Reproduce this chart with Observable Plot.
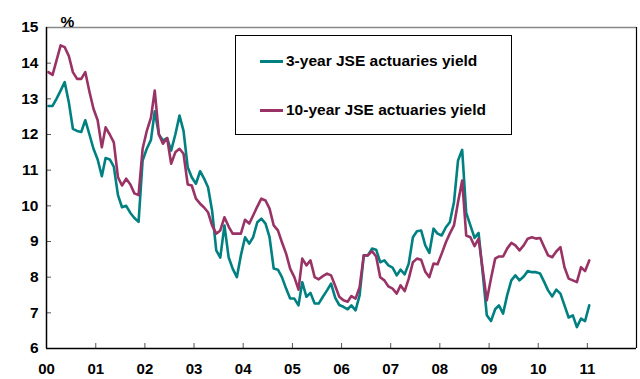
<!DOCTYPE html>
<html>
<head>
<meta charset="utf-8">
<script src="https://cdn.jsdelivr.net/npm/d3@7"></script>
<script src="https://cdn.jsdelivr.net/npm/@observablehq/plot@0.6"></script>
<style>
  html, body { margin: 0; padding: 0; background: white; }
  #wrap { position: relative; width: 640px; height: 379px; font-family: "Liberation Sans", Arial, sans-serif; }
  #legend { position: absolute; left: 235px; top: 35px; width: 277px; height: 100px; box-sizing: border-box; border: 1px solid black; background: white; }
  .sw { position: absolute; left: 24px; width: 23px; height: 3px; }
  .lt { position: absolute; left: 50px; font-size: 15.5px; font-weight: bold; line-height: 18px; white-space: nowrap; color: black; }
</style>
</head>
<body>
<div id="wrap"></div>
<script>
// Series names
const seriesNames = ["3-year JSE actuaries yield", "10-year JSE actuaries yield"];
const seriesColors = ["#008080", "#993366"];
// Monthly observations starting January 2000
const startYear = 2000;
const yield3 = [
  12.8, 12.8, 13.0, 13.23, 13.47, 12.9, 12.16, 12.1, 12.07, 12.4,
  12.0, 11.6, 11.3, 10.83, 11.34, 11.3, 11.1, 10.3, 9.96, 10.0,
  9.8, 9.66, 9.55, 11.27, 11.6, 11.85, 12.65, 12.0, 11.83, 11.9,
  11.55, 12.0, 12.53, 12.1, 11.08, 10.8, 10.62, 10.97, 10.78, 10.52,
  9.87, 8.75, 8.55, 9.45, 8.56, 8.24, 8.0, 8.61, 9.12, 8.94,
  9.12, 9.54, 9.64, 9.5, 9.12, 8.24, 8.21, 8.0, 7.68, 7.4,
  7.4, 7.21, 7.86, 7.45, 7.56, 7.26, 7.26, 7.45, 7.63, 7.82,
  7.42, 7.22, 7.17, 7.1, 7.21, 7.07, 7.49, 8.61, 8.61, 8.8,
  8.77, 8.42, 8.47, 8.33, 8.27, 8.05, 8.21, 8.08, 8.38, 9.12,
  9.29, 9.31, 8.89, 8.68, 9.36, 9.22, 9.17, 9.4, 9.54, 10.1,
  11.27, 11.57, 9.8, 9.45, 9.1, 9.24, 8.1, 6.93, 6.77, 7.1,
  7.21, 6.98, 7.49, 7.91, 8.05, 7.91, 8.02, 8.17, 8.14, 8.14,
  8.1, 7.86, 7.63, 7.46, 7.65, 7.54, 7.21, 6.87, 6.93, 6.6,
  6.84, 6.77, 7.21
];
const yield10 = [
  13.75, 13.67, 14.07, 14.5, 14.45, 14.2, 13.75, 13.56, 13.56, 13.75,
  13.2, 12.72, 12.4, 11.64, 12.2, 12.0, 11.78, 10.8, 10.57, 10.76,
  10.6, 10.35, 10.3, 11.6, 12.1, 12.47, 13.23, 12.0, 11.74, 11.9,
  11.18, 11.5, 11.6, 11.46, 10.6, 10.57, 10.2, 10.06, 9.96, 9.82,
  9.45, 9.22, 9.31, 9.68, 9.42, 9.22, 9.22, 9.22, 9.61, 9.5,
  9.73, 9.98, 10.2, 10.15, 9.92, 9.45, 9.31, 8.98, 8.66, 8.24,
  8.0, 7.65, 8.52, 8.33, 8.47, 8.0, 7.94, 8.03, 8.1, 8.05,
  7.75, 7.45, 7.35, 7.31, 7.47, 7.4, 7.72, 8.61, 8.61, 8.73,
  8.58, 8.0, 7.91, 7.74, 7.68, 7.54, 7.77, 7.61, 7.96, 8.42,
  8.52, 8.49, 8.15, 8.0, 8.38, 8.36, 8.66, 8.98, 9.22, 9.45,
  10.1, 10.71, 9.17, 9.12, 8.87, 9.08, 8.2, 7.35, 7.96, 8.52,
  8.58, 8.58, 8.8, 8.96, 8.89, 8.75, 8.89, 9.08, 9.12, 9.08,
  9.1, 8.84, 8.61, 8.56, 8.72, 8.84, 8.28, 7.96, 7.91, 7.86,
  8.28, 8.17, 8.47
];
// Axis ticks
const tickYears = [2000, 2001, 2002, 2003, 2004, 2005, 2006, 2007, 2008, 2009, 2010, 2011];
const tickLabels = ["00", "01", "02", "03", "04", "05", "06", "07", "08", "09", "10", "11"];
const yTicks = [6, 7, 8, 9, 10, 11, 12, 13, 14, 15];
const xDomainYears = [2000, 2012];
const yDomain = [6, 15];

const monthDate = (i) => new Date(Date.UTC(startYear, i, 15));
const rows3 = yield3.map((v, i) => ({date: monthDate(i), value: v}));
const rows10 = yield10.map((v, i) => ({date: monthDate(i), value: v}));
const tickDates = tickYears.map(y => new Date(Date.UTC(y, 0, 1)));
const x0 = new Date(Date.UTC(xDomainYears[0], 0, 1));
const x1 = new Date(Date.UTC(xDomainYears[1], 0, 1));

const font = "'Liberation Sans', Arial, sans-serif";
const chart = Plot.plot({
  width: 640,
  height: 379,
  marginLeft: 46,
  marginRight: 4,
  marginTop: 27,
  marginBottom: 31,
  style: {fontFamily: font, fontSize: "15px", fontWeight: "bold", color: "black", background: "white"},
  x: {type: "utc", domain: [x0, x1]},
  y: {domain: yDomain},
  marks: [
    Plot.axisY(yTicks, {tickSize: -5, tickPadding: 13, stroke: "#555", label: null, fill: "black", fontSize: 15.5}),
    Plot.axisX(tickDates, {tickSize: -5, tickPadding: 20, stroke: "#555", label: null, fill: "black", fontSize: 15,
      tickFormat: d => tickLabels[tickYears.indexOf(d.getUTCFullYear())]}),
    Plot.ruleY([yDomain[1]], {stroke: "#888", strokeWidth: 1.5}),
    Plot.ruleX([x1], {stroke: "black", strokeWidth: 1.2}),
    Plot.ruleY([yDomain[0]], {stroke: "black", strokeWidth: 1.5}),
    Plot.ruleX([x0], {stroke: "black", strokeWidth: 1.5}),
    Plot.line(rows3, {x: "date", y: "value", stroke: seriesColors[0], strokeWidth: 2.6, strokeLinejoin: "round"}),
    Plot.line(rows10, {x: "date", y: "value", stroke: seriesColors[1], strokeWidth: 2.6, strokeLinejoin: "round"}),
    Plot.text(["%"], {frameAnchor: "top-left", dx: 14, dy: -12, fontSize: 15.5, fontWeight: "bold", fill: "black"})
  ]
});

const wrap = document.getElementById("wrap");
wrap.appendChild(chart);
const legend = document.createElement("div");
legend.id = "legend";
seriesNames.forEach((name, i) => {
  const sw = document.createElement("div");
  sw.className = "sw";
  sw.style.top = (24 + i * 49) + "px";
  sw.style.background = seriesColors[i];
  const lt = document.createElement("div");
  lt.className = "lt";
  lt.style.top = (16 + i * 49) + "px";
  lt.textContent = name;
  legend.appendChild(sw);
  legend.appendChild(lt);
});
wrap.appendChild(legend);
</script>
</body>
</html>
